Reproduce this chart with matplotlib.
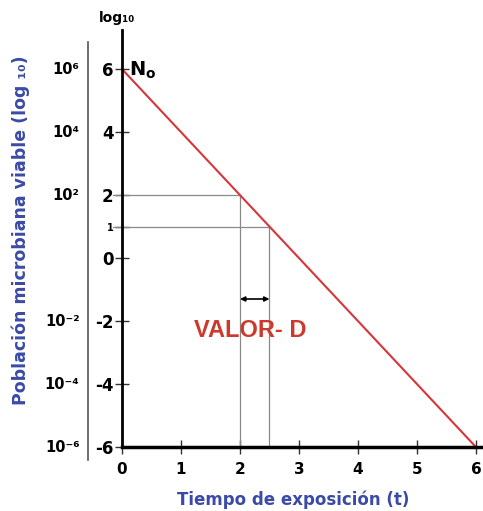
import matplotlib.pyplot as plt

# data
t_line = [0, 6]
log_line = [6, -6]
x_ticks = [0, 1, 2, 3, 4, 5, 6]
y_ticks = [6, 4, 2, 1, 0, -2, -4, -6]
y_tick_labels = ['6', '4', '2', '1', '0', '-2', '-4', '-6']
pow_ticks = [6, 4, 2, -2, -4, -6]
pow_labels = ['10⁶', '10⁴', '10²', '10⁻²', '10⁻⁴', '10⁻⁶']
d_points = [(2, 2), (2.5, 1)]
arrow_y = -1.3

red = '#d6363a'
blue = '#3a4aa6'

fig = plt.figure(figsize=(4.83, 5.11), dpi=100)
ax = fig.add_axes([0.2526, 0.1252, 0.745, 0.816])
ax.set_xlim(0, 6.1)
ax.set_ylim(-6, 7.24)

ax.spines['top'].set_visible(False)
ax.spines['right'].set_visible(False)
ax.spines['left'].set_linewidth(2)
ax.spines['bottom'].set_linewidth(2.5)

ax.set_xticks(x_ticks)
ax.set_xticklabels([str(v) for v in x_ticks], fontweight='bold', fontsize=11)
ax.set_yticks(y_ticks)
ax.set_yticklabels(y_tick_labels, fontweight='bold', fontsize=12)
for lab in ax.get_yticklabels():
    if lab.get_text() == '1':
        lab.set_fontsize(7)
ax.tick_params(axis='both', direction='inout', length=10, width=1, colors='#333333', labelcolor='black')
ax.tick_params(axis='x', pad=6)
ax.tick_params(axis='y', pad=1)

# guide lines
for x, y in d_points:
    ax.plot([-0.15, x], [y, y], color='#8a8a8a', lw=0.9, clip_on=False)
    ax.plot([x, x], [-6, y], color='#8a8a8a', lw=0.9)

ax.plot(t_line, log_line, color=red, lw=1.5, clip_on=False)

ax.annotate('', xy=(d_points[0][0], arrow_y), xytext=(d_points[1][0], arrow_y),
            arrowprops=dict(arrowstyle='<|-|>', color='black', lw=1.2,
                            mutation_scale=7, shrinkA=0, shrinkB=0))
ax.text(2.17, -2.3, 'VALOR- D', color='#cc3a2e', fontsize=17, fontweight='bold',
        family='Liberation Sans', ha='center', va='center')

ax.text(0.12, 5.95, r'$\mathbf{N_o}$', fontsize=14, ha='left', va='center')
ax.text(-0.08, 7.4, 'log₁₀', fontsize=10, fontweight='bold', ha='center', va='bottom')

# secondary scale line and powers of ten
ax.plot([-0.094 * 6.1, -0.094 * 6.1], [6.86, -6.41], color='#555555', lw=1.2, clip_on=False)
for y, lab in zip(pow_ticks, pow_labels):
    ax.text(-0.72, y, lab, fontsize=10.5, fontweight='bold', ha='right', va='center')

ax.set_xlabel('Tiempo de exposición (t)', color=blue, fontsize=12, fontweight='bold')
ax.xaxis.set_label_coords(0.475, -0.105)
fig.text(0.042, 0.55, 'Población microbiana viable (log ₁₀)', color=blue, fontsize=12.5,
         fontweight='bold', rotation=90, ha='center', va='center')

plt.savefig('out.png', dpi=100)
